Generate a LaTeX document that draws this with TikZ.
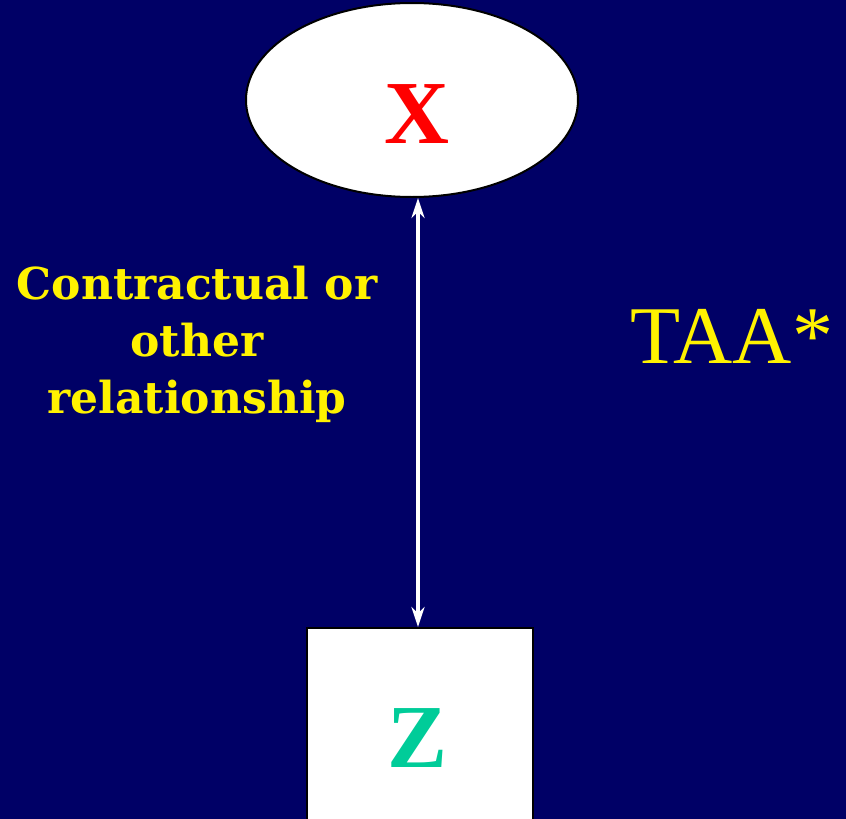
\documentclass[tikz,border=0pt]{standalone}
\usepackage{fontspec}
\usetikzlibrary{shapes.geometric,arrows.meta}
\newfontfamily\labelfont{DejaVu Serif}
\newfontfamily\timesfont{Liberation Serif}
\definecolor{bgblue}{HTML}{000066}
\definecolor{zgreen}{HTML}{00CC99}
\tikzset{
  shapebox/.style={draw=black, line width=2pt, fill=white},
  rellabel/.style={text=yellow, align=center, font=\labelfont\bfseries\fontsize{44}{57}\selectfont},
  link/.style={draw=white, line width=3.6pt, {Stealth[length=20pt,width=13pt]}-{Stealth[length=20pt,width=13pt]}}
}
\begin{document}
\begin{tikzpicture}[x=1pt,y=-1pt]
\useasboundingbox (0,0) rectangle (846,819);
\clip (0,0) rectangle (846,819);
\fill[bgblue] (0,0) rectangle (846,819);
\node[shapebox, ellipse, minimum width=332pt, minimum height=194pt, inner sep=0pt] (x) at (412,100) {};
\node[text=red, font=\timesfont\bfseries\fontsize{90}{90}\selectfont, anchor=base] (xl) at (417,143) {X};
\node[shapebox, rectangle, minimum width=226pt, minimum height=300pt, inner sep=0pt, anchor=north] (z) at (420,627) {};
\node[text=zgreen, font=\timesfont\bfseries\fontsize{90}{90}\selectfont, anchor=base] (zl) at (418,767) {Z};
\draw[link] ([xshift=6pt]x.south) -- (418,627);
\node[rellabel, anchor=base] (rel) at (197,413) {Contractual or\\other\\relationship};
\node[text=yellow, font=\timesfont\fontsize{82}{82}\selectfont, anchor=base west, inner sep=0pt] (taa) at (630,363) {TAA*};
\end{tikzpicture}
\end{document}
